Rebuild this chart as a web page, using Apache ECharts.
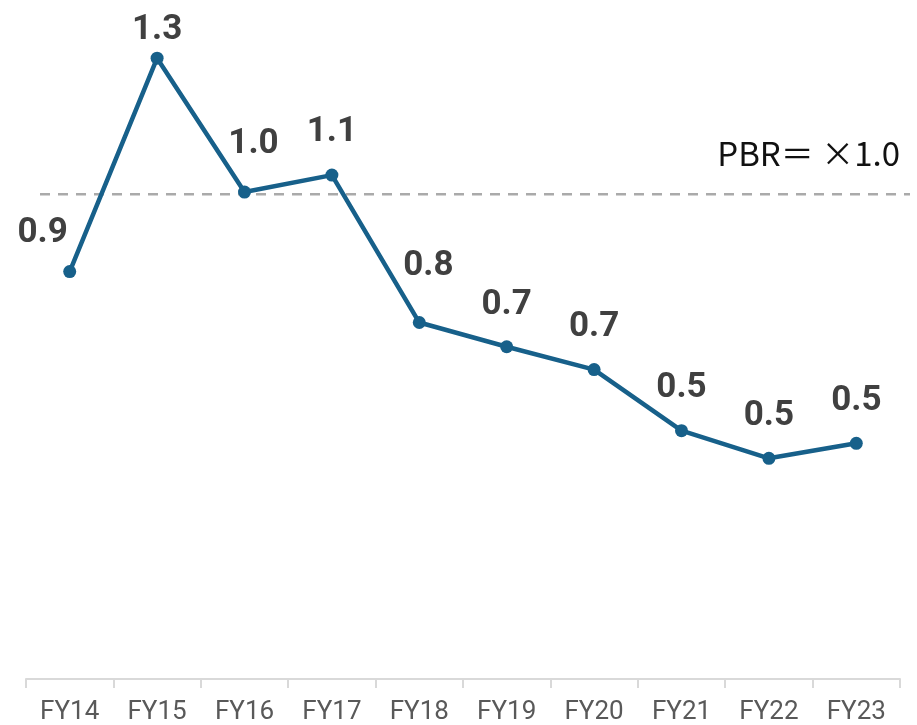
<!DOCTYPE html>
<html>
<head>
<meta charset="utf-8">
<script src="https://cdn.jsdelivr.net/npm/echarts@6/dist/echarts.min.js"></script>
<style>html,body{margin:0;padding:0;background:#fff}#c{width:917px;height:725px}</style>
</head>
<body>
<div id="c"></div>
<script>
const categories = ['FY14','FY15','FY16','FY17','FY18','FY19','FY20','FY21','FY22','FY23'];
const pbrValues = [0.84, 1.28, 1.004, 1.039, 0.735, 0.685, 0.638, 0.512, 0.455, 0.486];
const pbrLabels = ['0.9','1.3','1.0','1.1','0.8','0.7','0.7','0.5','0.5','0.5'];
const referenceLevel = 1.0;
const referenceText = 'PBR\uFF1D \u00D71.0';

const labelTweaks = [
  {position: 'top', distance: 0, offset: [-27, -14]},
  {distance: 4},
  {distance: 24, offset: [9, 0]},
  {distance: 19},
  {distance: 32, offset: [9, 0]},
  {}, {}, {}, {}, {}
];

const chart = echarts.init(document.getElementById('c'));
chart.setOption({
  animation: false,
  grid: [
    {left: 26, right: 17, top: 0, bottom: 45},
    {left: 40, right: 7, top: 0, bottom: 45}
  ],
  xAxis: [{
    type: 'category',
    gridIndex: 0,
    data: categories,
    boundaryGap: true,
    axisLine: {lineStyle: {color: '#d9d9d9', width: 2}},
    axisTick: {show: true, length: 9, lineStyle: {color: '#d9d9d9', width: 2}},
    axisLabel: {color: '#595959', fontSize: 26, fontFamily: 'Roboto', margin: 20}
  }, {
    type: 'value', gridIndex: 1, min: 0, max: 1, show: false
  }],
  yAxis: [
    {type: 'value', gridIndex: 0, min: 0, max: 1.4, show: false, splitLine: {show: false}},
    {type: 'value', gridIndex: 1, min: 0, max: 1.4, show: false, splitLine: {show: false}}
  ],
  series: [{
    type: 'line',
    xAxisIndex: 1, yAxisIndex: 1,
    data: [[0, referenceLevel], [1, referenceLevel]],
    symbol: 'none',
    silent: true,
    lineStyle: {type: [10, 8], color: '#aaaaaa', width: 2.5},
    z: 1,
    markLine: {
      silent: true,
      symbol: 'none',
      lineStyle: {color: 'rgba(0,0,0,0)', width: 0},
      label: {
        show: true,
        position: 'insideEndTop',
        formatter: referenceText,
        fontSize: 33,
        color: '#111111',
        fontFamily: 'Noto Sans CJK JP',
        distance: [10, 24]
      },
      data: [{yAxis: referenceLevel}]
    }
  }, {
    type: 'line',
    xAxisIndex: 0, yAxisIndex: 0,
    data: pbrValues.map((v, i) => ({
      value: v,
      label: Object.assign({}, labelTweaks[i])
    })),
    symbol: 'circle',
    symbolSize: 13,
    z: 3,
    lineStyle: {color: '#17608a', width: 4.5},
    itemStyle: {color: '#17608a'},
    label: {
      show: true,
      position: 'top',
      distance: 18,
      formatter: p => pbrLabels[p.dataIndex],
      fontSize: 35,
      fontWeight: 'bold',
      fontFamily: 'Roboto',
      color: '#404040'
    }
  }]
});
</script>
</body>
</html>
